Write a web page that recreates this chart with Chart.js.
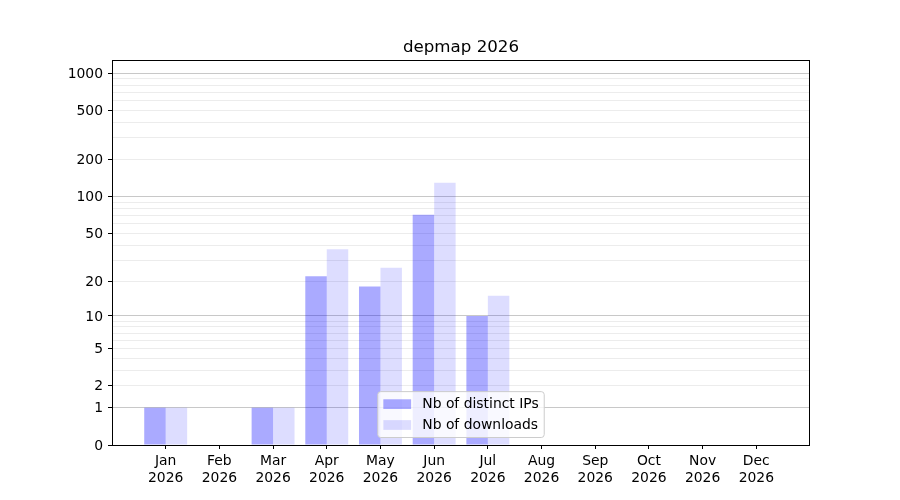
<!DOCTYPE html>
<html><head><meta charset="utf-8">
<script src="https://cdn.jsdelivr.net/npm/chart.js@4.4.1/dist/chart.umd.min.js"></script>
<style>html,body{margin:0;padding:0;background:#fff}</style>
</head><body>
<canvas id="c" width="900" height="500" style="width:900px;height:500px"></canvas>
<script>
const TITLE = 'depmap 2026';
const MONTHS = ['Jan','Feb','Mar','Apr','May','Jun','Jul','Aug','Sep','Oct','Nov','Dec'];
const YEAR = '2026';
const DISTINCT_IPS = [1, 0, 1, 22, 18, 71, 10, 0, 0, 0, 0, 0];
const DOWNLOADS    = [1, 0, 1, 37, 26, 130, 15, 0, 0, 0, 0, 0];
const Y_LABELED = [0, 1, 2, 5, 10, 20, 50, 100, 200, 500, 1000];
const Y_MAJOR = [0, 1, 10, 100, 1000];
const Y_MINOR = [3, 4, 6, 7, 8, 9, 30, 40, 60, 70, 80, 90, 300, 400, 600, 700, 800, 900];
const Y_MAX = 1278;

const FONT = 'DejaVu Sans';

class Log1pScale extends Chart.LinearScale {
  buildTicks() {
    return Y_LABELED.concat(Y_MINOR).sort((a, b) => a - b).map(v => ({ value: v }));
  }
  _t(v) { return Math.log10(v + 1); }
  getPixelForValue(v) {
    if (v === null || v === undefined || isNaN(v)) return NaN;
    const a = this._t(this.min), b = this._t(this.max);
    return this.getPixelForDecimal((this._t(v) - a) / (b - a));
  }
  getValueForPixel(p) {
    const a = this._t(this.min), b = this._t(this.max);
    return Math.pow(10, a + this.getDecimalForPixel(p) * (b - a)) - 1;
  }
}
Log1pScale.id = 'log1p';
Log1pScale.defaults = {};
Chart.register(Log1pScale);

const framePlugin = {
  id: 'frame',
  afterDatasetsDraw(chart) {
    const { ctx, chartArea: a } = chart;
    ctx.save();
    ctx.strokeStyle = '#000';
    ctx.lineWidth = 1;
    ctx.strokeRect(Math.round(a.left) + 0.5, Math.round(a.top) + 0.5,
                   Math.round(a.right - a.left) - 1, Math.round(a.bottom - a.top));
    ctx.restore();
  }
};

const legendPlugin = {
  id: 'mplLegend',
  afterDraw(chart) {
    const { ctx, chartArea: a } = chart;
    const fs = 13.9;
    ctx.save();
    ctx.font = fs + 'px "' + FONT + '"';
    const items = chart.data.datasets.map(d => ({ label: d.label, color: d.backgroundColor }));
    const tw = Math.max(...items.map(i => ctx.measureText(i.label).width));
    const pad = 0.4 * fs, hl = 2.0 * fs, htp = 0.8 * fs, ls = 0.5 * fs, rowH = fs * 1.0;
    const w = pad + hl + htp + tw + pad;
    const h = pad * 2 + items.length * rowH + (items.length - 1) * ls;
    const x = (a.left + a.right) / 2 - w / 2;
    const y = a.bottom - 7.5 - h;
    const r = 3;
    ctx.beginPath();
    ctx.moveTo(x + r, y);
    ctx.lineTo(x + w - r, y); ctx.quadraticCurveTo(x + w, y, x + w, y + r);
    ctx.lineTo(x + w, y + h - r); ctx.quadraticCurveTo(x + w, y + h, x + w - r, y + h);
    ctx.lineTo(x + r, y + h); ctx.quadraticCurveTo(x, y + h, x, y + h - r);
    ctx.lineTo(x, y + r); ctx.quadraticCurveTo(x, y, x + r, y);
    ctx.closePath();
    ctx.fillStyle = 'rgba(255,255,255,0.8)';
    ctx.fill();
    ctx.strokeStyle = '#cccccc';
    ctx.lineWidth = 1;
    ctx.stroke();
    items.forEach((it, i) => {
      const cy = y + pad + rowH / 2 + i * (rowH + ls);
      ctx.fillStyle = it.color;
      ctx.fillRect(x + pad, cy - 0.35 * fs, hl, 0.7 * fs);
      ctx.fillStyle = '#000';
      ctx.textBaseline = 'middle';
      ctx.textAlign = 'left';
      ctx.fillText(it.label, x + pad + hl + htp, cy + 0.5);
    });
    ctx.restore();
  }
};

new Chart(document.getElementById('c'), {
  type: 'bar',
  data: {
    datasets: [
      { label: 'Nb of distinct IPs', data: MONTHS.map((m, i) => ({ x: i, y: DISTINCT_IPS[i] })),
        backgroundColor: 'rgba(0,0,255,0.333)', borderWidth: 0 },
      { label: 'Nb of downloads', data: MONTHS.map((m, i) => ({ x: i, y: DOWNLOADS[i] })),
        backgroundColor: 'rgba(0,0,255,0.133)', borderWidth: 0 }
    ]
  },
  options: {
    responsive: false,
    devicePixelRatio: 1,
    animation: false,
    events: [],
    barPercentage: 1.0,
    categoryPercentage: 0.8,
    layout: { padding: { left: 0, right: 90, top: 0, bottom: 0 } },
    plugins: {
      legend: { display: false },
      tooltip: { enabled: false },
      title: {
        display: true, text: TITLE, color: '#000', fullSize: false,
        font: { family: FONT, size: 16.67, weight: 'normal' },
        padding: { top: 38, bottom: 2 }
      }
    },
    scales: {
      x: {
        type: 'linear', min: -1, max: 12, offset: false,
        afterBuildTicks: s => { s.ticks = MONTHS.map((m, i) => ({ value: i })); },
        afterFit: s => { s.height = 55; },
        grid: { offset: false, drawOnChartArea: false, tickLength: 4, tickColor: '#000', tickWidth: 1 },
        border: { display: false },
        ticks: {
          autoSkip: false, maxRotation: 0, padding: 4, color: '#000',
          font: { family: FONT, size: 13.9 },
          callback: v => [MONTHS[v], YEAR]
        }
      },
      y: {
        type: 'log1p', min: 0, max: Y_MAX,
        afterFit: s => { s.width = 112; },
        border: { display: false },
        grid: {
          tickLength: 4, tickWidth: 1,
          color: c => Y_MAJOR.includes(c.tick.value) ? '#c8c8c8' : '#ececec',
          tickColor: c => Y_LABELED.includes(c.tick.value) ? '#000' : 'rgba(0,0,0,0)'
        },
        ticks: {
          autoSkip: false, padding: 5, labelOffset: 1, color: '#000',
          font: { family: FONT, size: 13.9 },
          callback: v => Y_LABELED.includes(v) ? String(v) : ''
        }
      }
    }
  },
  plugins: [framePlugin, legendPlugin]
});
</script>
</body></html>
